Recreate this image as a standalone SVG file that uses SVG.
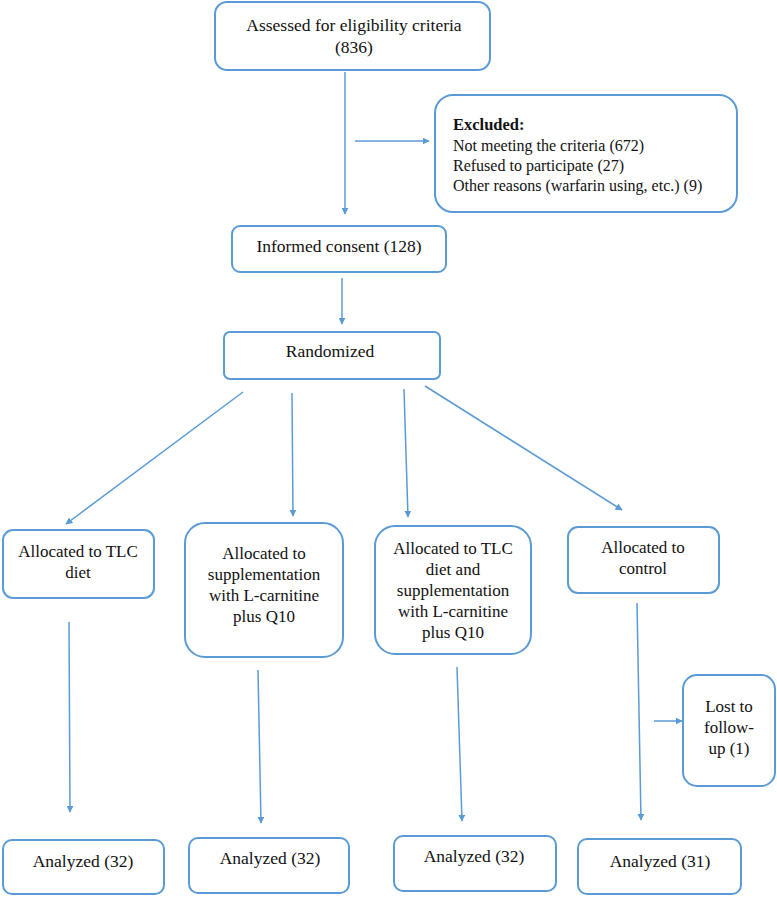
<svg xmlns="http://www.w3.org/2000/svg" width="777" height="897" viewBox="0 0 777 897">
<style>
.box{fill:#fff;stroke:#5b9bd5;stroke-width:2}
.t{font-family:"Liberation Serif","DejaVu Serif",serif;font-size:17.5px;fill:#111;text-anchor:middle}
.m{font-size:17px}
.e{font-size:16px;text-anchor:start}
.b{font-weight:bold;font-size:16.5px}
.c{stroke:#5b9bd5;stroke-width:1.5;fill:none;marker-end:url(#ah)}
</style>
<defs>
<marker id="ah" viewBox="0 0 10 10" refX="9" refY="5" markerWidth="7" markerHeight="7" markerUnits="userSpaceOnUse" orient="auto">
<path d="M0,0 L10,5 L0,10 z" fill="#5b9bd5"/>
</marker>
</defs>
<rect width="777" height="897" fill="#fff"/>
<g id="connectors">
<line class="c" x1="345" y1="72" x2="345" y2="214"/>
<line class="c" x1="355" y1="141" x2="429" y2="141"/>
<line class="c" x1="342" y1="278" x2="342" y2="324"/>
<line class="c" x1="243" y1="392" x2="66" y2="524"/>
<line class="c" x1="292" y1="393" x2="293" y2="516"/>
<line class="c" x1="404" y1="389" x2="408" y2="517"/>
<line class="c" x1="425" y1="386" x2="622" y2="510"/>
<line class="c" x1="69" y1="622" x2="70" y2="812"/>
<line class="c" x1="258" y1="670" x2="261" y2="823"/>
<line class="c" x1="457" y1="667" x2="462" y2="821"/>
<line class="c" x1="637" y1="603" x2="641" y2="820"/>
<line class="c" x1="654" y1="721" x2="682" y2="721"/>
</g>
<g id="assessed">
<rect class="box" x="215" y="2" width="275" height="68" rx="12"/>
<text class="t" x="354" y="31">Assessed for eligibility criteria</text>
<text class="t" x="354" y="53">(836)</text>
</g>
<g id="excluded">
<rect class="box" x="435" y="95" width="302" height="117" rx="18"/>
<text class="t e b" x="453" y="130">Excluded:</text>
<text class="t e" x="453" y="151">Not meeting the criteria (672)</text>
<text class="t e" x="453" y="171">Refused to participate (27)</text>
<text class="t e" x="453" y="191">Other reasons (warfarin using, etc.) (9)</text>
</g>
<g id="consent">
<rect class="box" x="232" y="226" width="214" height="46" rx="8"/>
<text class="t" x="339" y="252">Informed consent (128)</text>
</g>
<g id="randomized">
<rect class="box" x="224" y="332" width="216" height="47" rx="6"/>
<text class="t" x="330" y="357">Randomized</text>
</g>
<g id="tlc">
<rect class="box" x="3" y="530" width="151" height="68" rx="10"/>
<text class="t m" x="78" y="557">Allocated to TLC</text>
<text class="t m" x="78" y="578">diet</text>
</g>
<g id="supp">
<rect class="box" x="185" y="523" width="158" height="134" rx="20"/>
<text class="t m" x="264" y="559">Allocated to</text>
<text class="t m" x="264" y="580">supplementation</text>
<text class="t m" x="264" y="601">with L-carnitine</text>
<text class="t m" x="264" y="622">plus Q10</text>
</g>
<g id="tlcsupp">
<rect class="box" x="375" y="526" width="156" height="128" rx="20"/>
<text class="t m" x="453" y="554">Allocated to TLC</text>
<text class="t m" x="453" y="575">diet and</text>
<text class="t m" x="453" y="596">supplementation</text>
<text class="t m" x="453" y="617">with L-carnitine</text>
<text class="t m" x="453" y="638">plus Q10</text>
</g>
<g id="control">
<rect class="box" x="568" y="527" width="151" height="66" rx="10"/>
<text class="t m" x="643" y="553">Allocated to</text>
<text class="t m" x="643" y="574">control</text>
</g>
<g id="lost">
<rect class="box" x="683" y="675" width="92" height="111" rx="14"/>
<text class="t m" x="729" y="712">Lost to</text>
<text class="t m" x="729" y="733">follow-</text>
<text class="t m" x="729" y="754">up (1)</text>
</g>
<g id="an1">
<rect class="box" x="3" y="840" width="161" height="54" rx="9"/>
<text class="t" x="83" y="867">Analyzed (32)</text>
</g>
<g id="an2">
<rect class="box" x="189" y="838" width="160" height="55" rx="9"/>
<text class="t" x="270" y="864">Analyzed (32)</text>
</g>
<g id="an3">
<rect class="box" x="394" y="836" width="162" height="55" rx="9"/>
<text class="t" x="474" y="862">Analyzed (32)</text>
</g>
<g id="an4">
<rect class="box" x="578" y="839" width="163" height="55" rx="9"/>
<text class="t" x="660" y="867">Analyzed (31)</text>
</g>
</svg>
